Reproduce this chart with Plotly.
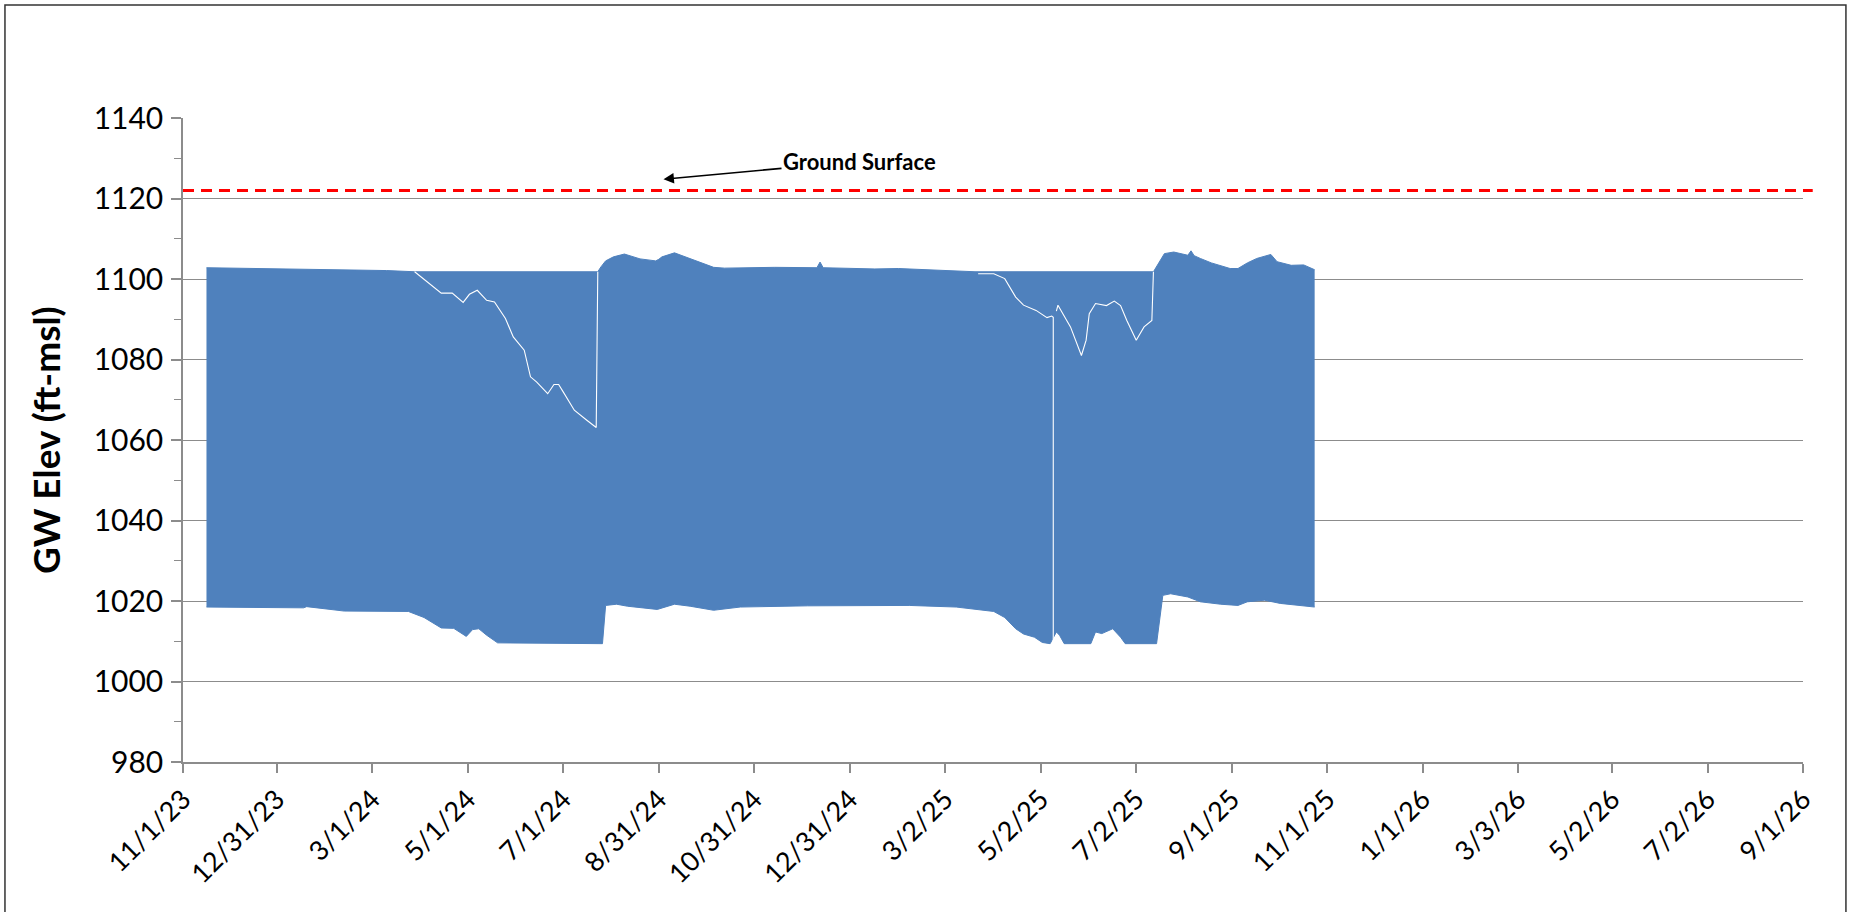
import plotly.graph_objects as go

# ---------------- data ----------------
upper_dates = ["2023-11-16", "2023-12-20", "2024-01-17", "2024-02-12", "2024-03-10", "2024-03-28",
               "2024-07-23", "2024-07-25", "2024-07-28", "2024-08-02", "2024-08-09", "2024-08-19",
               "2024-08-29", "2024-08-31", "2024-09-02", "2024-09-10", "2024-09-18", "2024-09-27",
               "2024-10-05", "2024-10-12", "2024-11-13", "2024-12-10", "2024-12-12", "2024-12-14",
               "2025-01-16", "2025-01-31", "2025-02-28", "2025-03-09", "2025-03-21",
               "2025-07-13", "2025-07-16", "2025-07-20", "2025-07-26", "2025-08-04", "2025-08-06",
               "2025-08-08", "2025-08-12", "2025-08-19", "2025-08-31", "2025-09-05", "2025-09-11",
               "2025-09-17", "2025-09-26", "2025-09-30", "2025-10-09", "2025-10-17", "2025-10-24"]
upper_vals = [1102.8, 1102.6, 1102.5, 1102.2, 1102.1, 1101.8,
              1101.8, 1103.0, 1104.5, 1105.5, 1106.2, 1105.0,
              1104.5, 1104.9, 1105.5, 1106.5, 1105.3, 1104.0,
              1102.9, 1102.7, 1102.9, 1102.8, 1104.2, 1102.8,
              1102.5, 1102.6, 1102.2, 1101.9, 1101.8,
              1101.8, 1103.7, 1106.3, 1106.7, 1105.9, 1107.0,
              1105.8, 1105.1, 1104.0, 1102.6, 1102.6, 1104.0,
              1105.1, 1106.1, 1104.3, 1103.4, 1103.5, 1102.3]

lower_dates = ["2023-11-16", "2024-01-17", "2024-01-19", "2024-02-12", "2024-03-24", "2024-04-03",
               "2024-04-14", "2024-04-22", "2024-04-30", "2024-05-04", "2024-05-08", "2024-05-13",
               "2024-05-20", "2024-07-26", "2024-07-28", "2024-08-04", "2024-08-11", "2024-08-30",
               "2024-09-10", "2024-09-20", "2024-10-05", "2024-10-22", "2024-12-04", "2025-02-07",
               "2025-03-09", "2025-03-29", "2025-04-02", "2025-04-09", "2025-04-16", "2025-04-21",
               "2025-04-28", "2025-05-03", "2025-05-08", "2025-05-12", "2025-05-14", "2025-05-17",
               "2025-06-03", "2025-06-06", "2025-06-10", "2025-06-17", "2025-06-22", "2025-06-25",
               "2025-07-15", "2025-07-19", "2025-07-24", "2025-08-04", "2025-08-12", "2025-08-25",
               "2025-09-05", "2025-09-11", "2025-09-22", "2025-10-02", "2025-10-17", "2025-10-24"]
lower_vals = [1018.5, 1018.3, 1018.6, 1017.5, 1017.4, 1015.9,
              1013.3, 1013.2, 1011.2, 1012.9, 1013.1, 1011.5,
              1009.6, 1009.4, 1018.9, 1019.2, 1018.7, 1017.9,
              1019.2, 1018.7, 1017.7, 1018.5, 1018.8, 1018.9,
              1018.5, 1017.5, 1017.4, 1015.9, 1013.1, 1011.8,
              1011.0, 1009.7, 1009.4, 1012.3, 1011.5, 1009.4,
              1009.4, 1012.3, 1011.9, 1013.1, 1011.0, 1009.4,
              1009.4, 1021.4, 1021.8, 1021.0, 1019.8, 1019.2,
              1018.9, 1019.8, 1020.2, 1019.4, 1018.7, 1018.5]

# static level trace that shows as a thin white line inside the band (None = gap)
static_dates = ["2024-03-28", "2024-04-05", "2024-04-14", "2024-04-21", "2024-04-28", "2024-05-02",
                "2024-05-07", "2024-05-13", "2024-05-18", "2024-05-25", "2024-05-30", "2024-06-06",
                "2024-06-10", "2024-06-14", "2024-06-21", "2024-06-25", "2024-06-28", "2024-07-01",
                "2024-07-08", "2024-07-16", "2024-07-22", "2024-07-23", None,
                "2025-03-23", "2025-04-02", "2025-04-09", "2025-04-16", "2025-04-21", "2025-04-29",
                "2025-05-06", "2025-05-09", "2025-05-10", "2025-05-10", None,
                "2025-05-12", "2025-05-13", "2025-05-21", "2025-05-28", "2025-05-31", "2025-06-02",
                "2025-06-06", "2025-06-13", "2025-06-18", "2025-06-22", "2025-06-26", "2025-07-02",
                "2025-07-07", "2025-07-12", "2025-07-13"]
static_vals = [1101.8, 1099.3, 1096.5, 1096.5, 1094.2, 1096.2,
               1097.2, 1094.7, 1094.3, 1090.2, 1085.6, 1082.3,
               1075.7, 1074.4, 1071.5, 1073.8, 1073.8, 1071.9,
               1067.4, 1064.9, 1063.1, 1101.8, None,
               1101.3, 1101.3, 1100.1, 1095.5, 1093.5, 1092.2,
               1090.4, 1090.8, 1090.5, 1009.5, None,
               1092.0, 1093.5, 1088.1, 1081.0, 1084.8, 1091.4,
               1093.9, 1093.4, 1094.5, 1093.4, 1089.7, 1084.8,
               1088.1, 1089.7, 1101.8]

ground_surface = 1122
ground_label = "Ground Surface"
ground_arrow_date = "2024-09-03"

x_tick_labels = ["11/1/23", "12/31/23", "3/1/24", "5/1/24", "7/1/24", "8/31/24", "10/31/24",
                 "12/31/24", "3/2/25", "5/2/25", "7/2/25", "9/1/25", "11/1/25", "1/1/26",
                 "3/3/26", "5/2/26", "7/2/26", "9/1/26"]
x_tick_dates = ["2023-11-01", "2023-12-31", "2024-03-01", "2024-05-01", "2024-07-01", "2024-08-31",
                "2024-10-31", "2024-12-31", "2025-03-02", "2025-05-02", "2025-07-02", "2025-09-01",
                "2025-11-01", "2026-01-01", "2026-03-03", "2026-05-02", "2026-07-02", "2026-09-01"]
y_title = "GW Elev (ft-msl)"

# ---------------- figure ----------------
BLUE = "#4F81BD"
GRID = "#8C8C8C"
FONT = "Lato"

fig = go.Figure()
fig.add_trace(go.Scatter(x=lower_dates, y=lower_vals, mode="lines",
                         line=dict(color=BLUE, width=1), showlegend=False, hoverinfo="skip"))
fig.add_trace(go.Scatter(x=upper_dates, y=upper_vals, mode="lines", fill="tonexty",
                         fillcolor=BLUE, line=dict(color=BLUE, width=1),
                         showlegend=False, hoverinfo="skip"))
fig.add_trace(go.Scatter(x=static_dates, y=static_vals, mode="lines", connectgaps=False,
                         line=dict(color="white", width=1.1), showlegend=False, hoverinfo="skip"))

# ground surface dashed line
fig.add_shape(type="line", xref="paper", yref="y", x0=0, x1=1.006,
              y0=ground_surface, y1=ground_surface,
              line=dict(color="#FF0000", width=3, dash="11px,7px"))

fig.add_annotation(x=ground_arrow_date, y=ground_surface + 2.8, xref="x", yref="y",
                   text="<b>" + ground_label + "</b>", showarrow=True,
                   ax=196, ay=-18, arrowhead=2, arrowsize=1.3, arrowwidth=1.6,
                   arrowcolor="black", font=dict(family=FONT, size=22, color="black"))

# y-axis title
fig.add_annotation(xref="paper", yref="paper", x=-0.0852, y=0.5, xanchor="center",
                   yanchor="middle", textangle=-90, showarrow=False,
                   text="<b>" + y_title + "</b>", font=dict(family=FONT, size=37, color="black"))

# outer chart border
fig.add_shape(type="rect", xref="paper", yref="paper", x0=-0.1099, x1=1.0265,
              y0=-0.4, y1=1.1755, line=dict(color="#333333", width=1.5))

fig.update_layout(
    width=1851, height=912,
    margin=dict(l=183, r=48, t=118, b=150),
    paper_bgcolor="white", plot_bgcolor="white",
    font=dict(family=FONT, size=26, color="black"),
    showlegend=False,
)
fig.update_xaxes(type="date", range=["2023-11-01", "2026-09-01"],
                 tickmode="array", tickvals=x_tick_dates, ticktext=x_tick_labels,
                 tickangle=-45, ticks="outside", ticklen=9, tickcolor=GRID, tickwidth=1.5,
                 showline=True, linecolor=GRID, linewidth=1.5, showgrid=False,
                 zeroline=False, tickfont=dict(family=FONT, size=27, color="black"))
fig.update_yaxes(range=[980, 1140], tick0=980, dtick=20, ticks="outside", ticklen=10,
                 tickcolor=GRID, tickwidth=1.5, showline=True, linecolor=GRID, linewidth=1.5,
                 showgrid=True, gridcolor=GRID, gridwidth=1.3, zeroline=False,
                 ticklabelstandoff=2,
                 minor=dict(dtick=10, ticks="outside", ticklen=7, tickcolor=GRID,
                            tickwidth=1.2, showgrid=False),
                 tickfont=dict(family=FONT, size=30, color="black"))

fig.write_html("out.html", config={"displayModeBar": False},
               post_script="document.body.style.margin='0';document.body.style.overflow='hidden';")
